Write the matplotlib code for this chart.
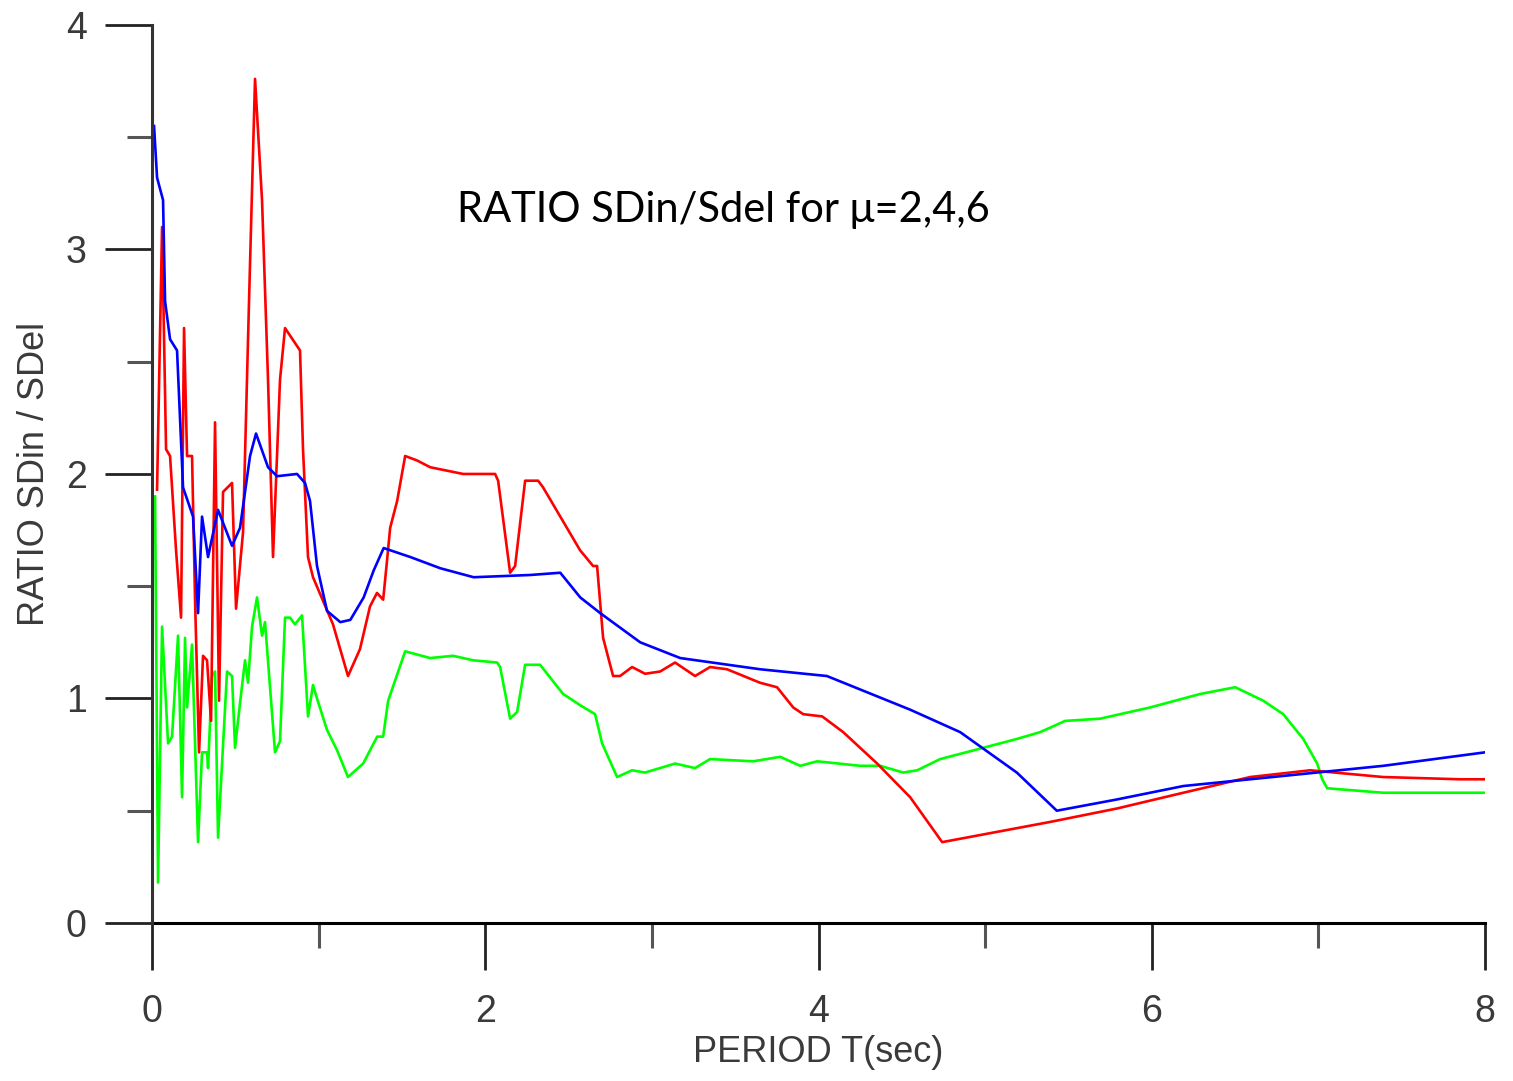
import matplotlib
matplotlib.use("Agg")
import matplotlib.pyplot as plt
from matplotlib.ticker import MultipleLocator

# mu = 2 (blue)
t_blue = [0.012, 0.03, 0.066, 0.078, 0.108, 0.15, 0.186, 0.246, 0.276, 0.30, 0.336, 0.396,
          0.48, 0.528, 0.588, 0.624, 0.696, 0.75, 0.87, 0.918, 0.948, 0.99, 1.05, 1.13, 1.19,
          1.27, 1.33, 1.39, 1.55, 1.73, 1.93, 2.27, 2.45, 2.57, 2.69, 2.93, 3.17, 3.65, 4.05,
          4.25, 4.55, 4.85, 5.19, 5.43, 5.79, 6.19, 6.59, 6.99, 7.39, 8.0]
r_blue = [3.55, 3.32, 3.22, 2.77, 2.60, 2.55, 1.94, 1.81, 1.38, 1.81, 1.63, 1.84,
          1.68, 1.76, 2.08, 2.18, 2.03, 1.99, 2.00, 1.96, 1.88, 1.59, 1.39, 1.34, 1.35,
          1.45, 1.57, 1.67, 1.63, 1.58, 1.54, 1.55, 1.56, 1.45, 1.38, 1.25, 1.18, 1.13, 1.10,
          1.04, 0.95, 0.85, 0.67, 0.50, 0.55, 0.61, 0.64, 0.67, 0.70, 0.76]

# mu = 4 (red)
t_red = [0.030, 0.060, 0.084, 0.108, 0.144, 0.174, 0.192, 0.210, 0.240, 0.258, 0.282, 0.306,
         0.330, 0.354, 0.378, 0.402, 0.426, 0.480, 0.504, 0.546, 0.582, 0.618, 0.660, 0.696,
         0.726, 0.768, 0.798, 0.888, 0.906, 0.936, 0.966, 1.086, 1.176, 1.248, 1.308, 1.350,
         1.387, 1.411, 1.429, 1.471, 1.519, 1.591, 1.669, 1.867, 2.059, 2.077, 2.149, 2.179,
         2.239, 2.317, 2.347, 2.569, 2.647, 2.671, 2.707, 2.767, 2.809, 2.881, 2.959, 3.049,
         3.139, 3.259, 3.349, 3.451, 3.649, 3.751, 3.848, 3.908, 4.022, 4.148, 4.352, 4.550,
         4.742, 5.390, 5.792, 6.189, 6.591, 6.951, 7.389, 7.851, 8.0]
r_red = [1.93, 3.10, 2.11, 2.08, 1.66, 1.36, 2.65, 2.08, 2.08, 1.44, 0.76, 1.19,
         1.17, 0.90, 2.23, 0.99, 1.92, 1.96, 1.40, 1.74, 2.77, 3.76, 3.22, 2.42,
         1.63, 2.42, 2.65, 2.55, 2.11, 1.63, 1.54, 1.33, 1.10, 1.22, 1.41, 1.47,
         1.44, 1.62, 1.76, 1.88, 2.08, 2.06, 2.03, 2.00, 2.00, 1.97, 1.56, 1.59,
         1.97, 1.97, 1.94, 1.66, 1.59, 1.59, 1.27, 1.10, 1.10, 1.14, 1.11, 1.12,
         1.16, 1.10, 1.14, 1.13, 1.07, 1.05, 0.96, 0.93, 0.92, 0.85, 0.71, 0.56,
         0.36, 0.45, 0.51, 0.58, 0.65, 0.68, 0.65, 0.64, 0.64]

# mu = 6 (green)
t_green = [0.018, 0.036, 0.060, 0.096, 0.120, 0.156, 0.180, 0.198, 0.210, 0.240, 0.276, 0.300,
           0.330, 0.336, 0.360, 0.378, 0.396, 0.450, 0.480, 0.498, 0.528, 0.558, 0.576, 0.600,
           0.630, 0.660, 0.678, 0.738, 0.768, 0.798, 0.828, 0.858, 0.900, 0.936, 0.966, 0.990,
           1.050, 1.110, 1.176, 1.267, 1.351, 1.387, 1.417, 1.519, 1.669, 1.807, 1.927, 2.071,
           2.089, 2.149, 2.191, 2.239, 2.329, 2.467, 2.569, 2.659, 2.701, 2.791, 2.881, 2.959,
           3.049, 3.139, 3.259, 3.349, 3.607, 3.770, 3.890, 3.992, 4.250, 4.370, 4.508, 4.592,
           4.730, 4.988, 5.192, 5.330, 5.480, 5.690, 5.990, 6.291, 6.501, 6.669, 6.789, 6.909,
           6.993, 7.023, 7.053, 7.389, 7.851, 8.0]
r_green = [1.90, 0.18, 1.32, 0.80, 0.83, 1.28, 0.56, 1.27, 0.96, 1.24, 0.36, 0.76,
           0.76, 0.69, 1.10, 1.12, 0.38, 1.12, 1.10, 0.78, 0.98, 1.17, 1.07, 1.32,
           1.45, 1.28, 1.34, 0.76, 0.81, 1.36, 1.36, 1.33, 1.37, 0.92, 1.06, 1.00,
           0.86, 0.77, 0.65, 0.71, 0.83, 0.83, 0.99, 1.21, 1.18, 1.19, 1.17, 1.16,
           1.14, 0.91, 0.94, 1.15, 1.15, 1.02, 0.97, 0.93, 0.80, 0.65, 0.68, 0.67,
           0.69, 0.71, 0.69, 0.73, 0.72, 0.74, 0.70, 0.72, 0.70, 0.70, 0.67, 0.68,
           0.73, 0.78, 0.82, 0.85, 0.90, 0.91, 0.96, 1.02, 1.05, 0.99, 0.93, 0.82,
           0.71, 0.64, 0.60, 0.58, 0.58, 0.58]

fig = plt.figure(figsize=(15.13, 10.81), dpi=100)
ax = fig.add_axes([0.1005, 0.1462, 0.881, 0.8307])

ax.plot(t_green, r_green, color='#00ff00', lw=1.9)
ax.plot(t_red, r_red, color='#ff0000', lw=1.9)
ax.plot(t_blue, r_blue, color='#0000ff', lw=1.9)

ax.set_xlim(0, 8)
ax.set_ylim(0, 4)
ax.spines['top'].set_visible(False)
ax.spines['right'].set_visible(False)
ax.spines['left'].set_color('#333333')
ax.spines['left'].set_linewidth(2.2)
ax.spines['bottom'].set_linewidth(2.2)
ax.spines['left'].set_zorder(5)

ax.xaxis.set_major_locator(MultipleLocator(2))
ax.xaxis.set_minor_locator(MultipleLocator(1))
ax.yaxis.set_major_locator(MultipleLocator(1))
ax.yaxis.set_minor_locator(MultipleLocator(0.5))
ax.tick_params(which='major', direction='out', length=34, width=2, color='#222222',
               labelsize=27, labelcolor='#3a3a3a')
ax.tick_params(which='minor', direction='out', length=18, width=2.2, color='#555555')
ax.tick_params(axis='x', which='major', pad=17)
ax.tick_params(axis='y', which='major', pad=13)
for lab in ax.get_xticklabels() + ax.get_yticklabels():
    lab.set_family('Liberation Sans')

ax.set_xlabel('PERIOD T(sec)', fontsize=26, family='Liberation Sans', color='#3a3a3a', labelpad=4)
ax.set_ylabel('RATIO SDin / SDel', fontsize=26, family='Liberation Sans', color='#3a3a3a', labelpad=10)

fig.text(0.302, 0.806, 'RATIO SDin/Sdel for μ=2,4,6', fontsize=30, family='Lato',
         ha='left', va='center', color='black')

fig.savefig('out.png', dpi=100, facecolor='white')
